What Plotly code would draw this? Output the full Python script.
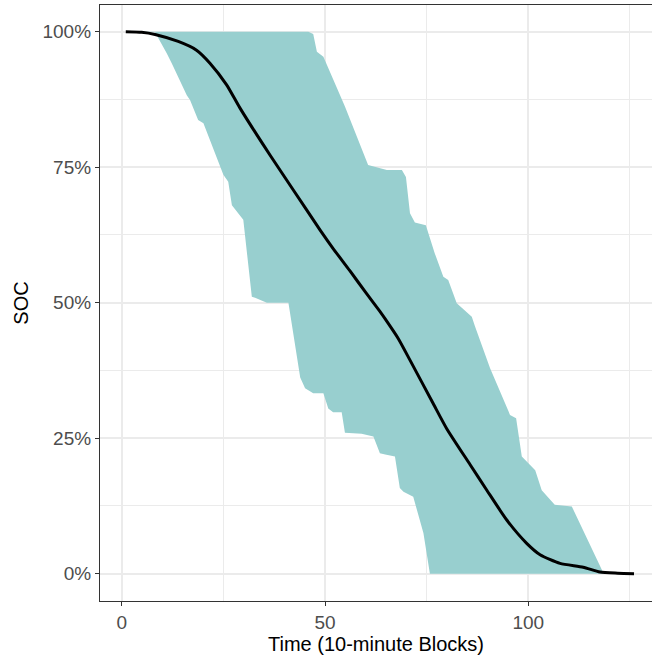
import plotly.graph_objects as go

# Mean state-of-charge line (Time in 10-minute blocks, SOC in %)
mean_time = [1, 4.9, 8.2, 13.9, 18.4, 21.7, 25.8, 29.1, 36.5, 42.2, 48.8, 52.0, 56.1,
             60.0, 63.5, 64.8, 68.0, 70.9, 76.6, 79.9, 85.7, 89.8, 94.7, 99.6, 102.9,
             107.8, 113.5, 117.6, 122, 126]
mean_soc = [100, 99.9, 99.5, 98.2, 96.6, 94.2, 90.2, 85.9, 77.2, 70.8, 63.4, 60.0, 55.9,
            51.9, 48.4, 47.0, 43.4, 39.4, 31.4, 26.8, 20.1, 15.4, 9.9, 5.6, 3.5,
            1.9, 1.2, 0.3, 0.1, 0]

# Upper envelope of the ribbon
upper_time = [1, 45.9, 47.1, 48.0, 49.6, 54.9, 60.6, 65.2, 68.9, 69.9, 70.9, 72.1, 74.8,
              77.0, 79.1, 80.3, 82.4, 86.1, 86.9, 90.6, 95.5, 97.0, 98.4, 101.7, 103.3,
              106.5, 110.7, 114.4, 118.1, 118.4, 122, 126]
upper_soc = [100, 100, 99.6, 96.3, 95.4, 86.2, 75.4, 74.5, 74.5, 73.2, 66.5, 64.8, 64.3,
             59.1, 54.8, 54.2, 49.9, 47.4, 45.6, 37.9, 29.3, 28.7, 21.6, 19.1, 15.4,
             12.7, 12.4, 6.5, 0.7, 0.2, 0.1, 0]

# Lower envelope of the ribbon
lower_time = [1, 8.2, 11.1, 12.3, 16.0, 16.8, 18.8, 20.1, 25.0, 26.2, 27.1, 28.3, 29.9,
              32.0, 32.8, 35.7, 41.0, 43.9, 45.1, 47.1, 49.6, 50.8, 52.0, 54.1, 54.9,
              59.0, 61.9, 63.5, 64.8, 67.2, 68.4, 69.3, 71.7, 74.2, 75.8, 126]
lower_soc = [100, 99.9, 96.0, 94.2, 88.3, 87.4, 83.7, 83.1, 73.6, 72.3, 68.0, 66.8, 65.3,
             51.1, 50.9, 50.0, 50.0, 36.2, 34.2, 33.3, 33.3, 30.5, 29.8, 29.8, 26.0,
             25.8, 25.3, 22.2, 22.0, 21.6, 15.8, 15.1, 14.2, 7.5, 0.0, 0.0]

x_ticks = [0, 50, 100]
y_ticks = [0, 25, 50, 75, 100]
y_labels = ["0%", "25%", "50%", "75%", "100%"]

FONT = "Liberation Sans, Arial, sans-serif"
GRID = "#EBEBEB"

fig = go.Figure()
fig.add_trace(go.Scatter(
    x=upper_time + lower_time[::-1],
    y=upper_soc + lower_soc[::-1],
    fill="toself", fillcolor="#98CFCF", line=dict(width=0),
    mode="lines", hoverinfo="skip", showlegend=False))
fig.add_trace(go.Scatter(
    x=mean_time, y=mean_soc, mode="lines",
    line=dict(color="black", width=3, shape="spline", smoothing=0.6),
    showlegend=False))

fig.update_layout(
    width=652, height=655,
    margin=dict(l=100, r=0, t=5, b=54),
    paper_bgcolor="white", plot_bgcolor="white",
    font=dict(family=FONT, color="#4D4D4D", size=19),
)
fig.update_xaxes(
    range=[-5.34, 130.42], tickvals=x_ticks, ticktext=[str(v) for v in x_ticks],
    showgrid=True, gridcolor=GRID, gridwidth=1.5, zeroline=False,
    minor=dict(tickvals=[25, 75, 125], showgrid=True, gridcolor=GRID, gridwidth=1, ticks=""),
    showline=True, linecolor="#333333", linewidth=1.2, mirror=True,
    ticks="outside", ticklen=4, tickcolor="#333333", tickwidth=1,
    tickfont=dict(size=19, color="#4D4D4D"),
    title=dict(text="Time (10-minute Blocks)", font=dict(size=20, color="black"), standoff=3),
)
fig.update_yaxes(
    range=[-5.04, 104.93], tickvals=y_ticks, ticktext=y_labels,
    showgrid=True, gridcolor=GRID, gridwidth=1.5, zeroline=False,
    minor=dict(tickvals=[12.5, 37.5, 62.5, 87.5], showgrid=True, gridcolor=GRID, gridwidth=1, ticks=""),
    showline=True, linecolor="#333333", linewidth=1.2, mirror=False,
    ticks="outside", ticklen=4, tickcolor="#333333", tickwidth=1,
    tickfont=dict(size=19, color="#4D4D4D"),
    title=dict(text="SOC", font=dict(size=20, color="black"), standoff=8),
)

fig.write_html("out.html")
